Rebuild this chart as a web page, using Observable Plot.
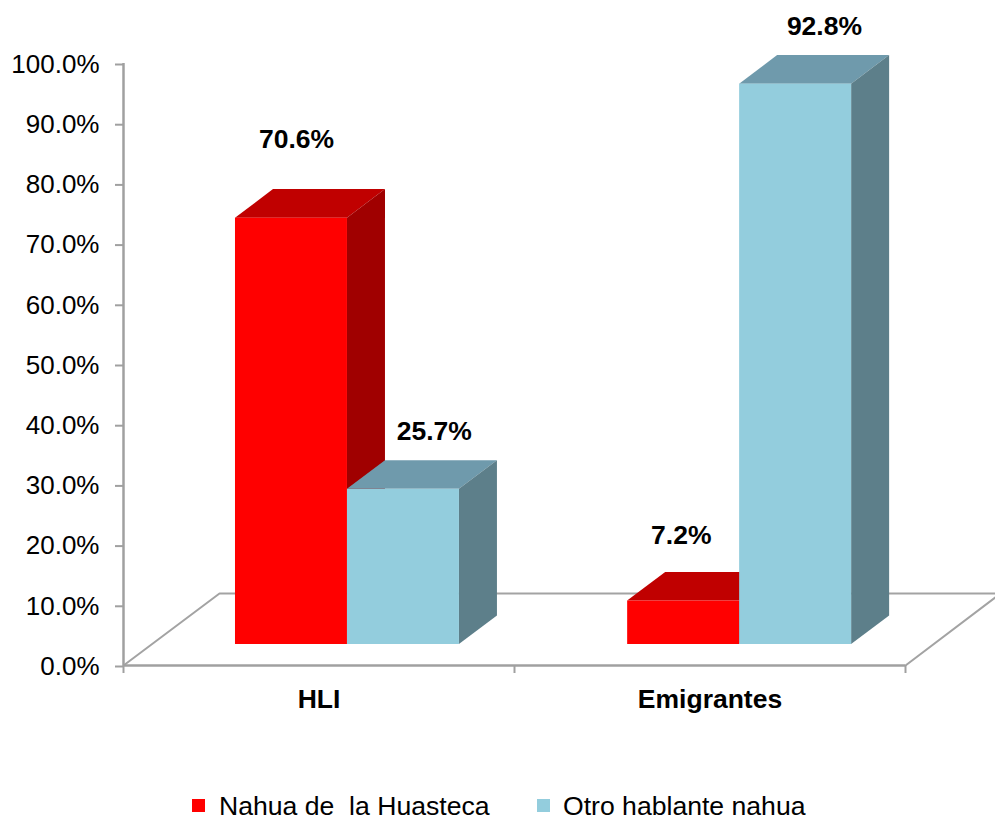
<!DOCTYPE html>
<html><head><meta charset="utf-8">
<style>
html,body{margin:0;padding:0;background:#fff;overflow:hidden;}
svg{display:block;}
#legend{position:relative;height:30px;font:26.6px "Liberation Sans",Arial,sans-serif;color:#000;white-space:pre;}
#legend span{position:absolute;top:0;line-height:30px;}
#legend i{position:absolute;top:8px;width:13px;height:13px;display:block;}
</style>
<script src="https://cdn.jsdelivr.net/npm/d3@7"></script>
<script src="https://cdn.jsdelivr.net/npm/@observablehq/plot@0.6"></script>
</head><body>
<div id="chart"></div>
<div id="legend"></div>
<script>
const categories = ["HLI", "Emigrantes"];
const seriesNames = ["Nahua de  la Huasteca", "Otro hablante nahua"];
const nahuaHuasteca = [70.6, 7.2];
const otroHablante = [25.7, 92.8];
const yTicks = [0,10,20,30,40,50,60,70,80,90,100];

// 3D projection of the chart, in scale units
const barW = 0.2864, floorY = 3.49, depthX = 0.0972, depthY = 4.75, barScale = 1.003;
const groupShift = [0, 0.003];
const wallX = 0.2455, wallY = 11.96, floorEnd = 2.23;
const labelShiftX = [[0.0128, -0.006], [0.079, 0.0737]];
const labelShiftY = [[13.1, 10.9], [9.6, 9.6]];

const palette = [
  {front:"#ff0000", top:"#c00000", side:"#a00000"},
  {front:"#93cddd", top:"#6f9aac", side:"#5d7f8a"}
];
const series = [nahuaHuasteca, otroHablante];

const bars = [];
series.forEach((vals, s) => vals.forEach((v, c) => {
  const x1 = c + groupShift[c] + barW * (1 + s), x2 = x1 + barW;
  bars.push({s, c, v, x1, x2, y1: floorY, y2: floorY + v * barScale});
}));

function sideFace(b){ return [
  {k:b.s+"-"+b.c, x:b.x2, a:b.y1, z:b.y2},
  {k:b.s+"-"+b.c, x:b.x2+depthX, a:b.y1+depthY, z:b.y2+depthY}
];}
function topFace(b){ const t=b.y2, u=b.y2+depthY, k=b.s+"-"+b.c; return [
  {k, x:b.x1, a:t, z:t},
  {k, x:b.x1+depthX, a:t, z:u},
  {k, x:b.x2, a:t, z:u},
  {k, x:b.x2+depthX, a:u, z:u}
];}

const floorBack = [{x:0,y:0},{x:wallX,y:wallY},{x:floorEnd,y:wallY}];
const floorFront = [{x:2,y:0},{x:floorEnd,y:wallY-0.65}];
const lineGrey = "#a3a3a3";

const barMarks = [0,1].flatMap(s => {
  const bs = bars.filter(b => b.s === s);
  return [
    Plot.areaY(bs.flatMap(topFace), {x:"x", y1:"a", y2:"z", z:"k", fill:palette[s].top, curve:"linear"}),
    Plot.areaY(bs.flatMap(sideFace), {x:"x", y1:"a", y2:"z", z:"k", fill:palette[s].side, curve:"linear"}),
    Plot.rect(bs, {x1:"x1", x2:"x2", y1:"y1", y2:"y2", fill:palette[s].front})
  ];
});

const chart = Plot.plot({
  width: 995, height: 791,
  marginLeft: 123, marginRight: 90, marginTop: 63, marginBottom: 126,
  style: {fontFamily:'"Liberation Sans",Arial,sans-serif', fontSize:"26px", background:"#fff", overflow:"visible"},
  x: {domain:[0,2]},
  y: {domain:[0,100]},
  marks: [
    Plot.line(floorBack, {x:"x", y:"y", stroke:lineGrey, strokeWidth:2}),
    Plot.line(floorFront, {x:"x", y:"y", stroke:lineGrey, strokeWidth:2}),
    ...barMarks,
    Plot.axisY({ticks:yTicks, tickSize:8, tickPadding:16, tickFormat:d=>d.toFixed(1)+"%", label:null,
      stroke:"#a0a0a0", strokeWidth:2, fill:"#000", fontSize:26, dy:1}),
    Plot.axisX({ticks:[0,1,2], tickSize:8, tickFormat:()=>"", label:null, stroke:"#a0a0a0", strokeWidth:2}),
    Plot.axisX({ticks:[0.5,1.5], tickSize:0, tickPadding:24, tickFormat:(d,i)=>categories[i], label:null,
      fill:"#000", fontSize:26.5, fontWeight:"bold"}),
    Plot.ruleX([0], {stroke:"#a0a0a0", strokeWidth:2.5}),
    Plot.ruleY([0], {stroke:"#a0a0a0", strokeWidth:2.5}),
    Plot.text(bars, {
      x:b=>(b.x1+b.x2)/2+labelShiftX[b.s][b.c],
      y:b=>b.y2+labelShiftY[b.s][b.c],
      text:b=>b.v.toFixed(1)+"%",
      fill:"#000", fontSize:26.5, fontWeight:"bold", lineAnchor:"middle"
    })
  ]
});
document.getElementById("chart").append(chart);

const legend = document.getElementById("legend");
const swatchX = [192, 537], textX = [219, 563];
seriesNames.forEach((name,i)=>{
  const sw=document.createElement("i");
  sw.style.left=swatchX[i]+"px"; sw.style.background=palette[i].front;
  const t=document.createElement("span");
  t.style.left=textX[i]+"px"; t.textContent=name;
  legend.append(sw,t);
});
</script>
</body></html>
